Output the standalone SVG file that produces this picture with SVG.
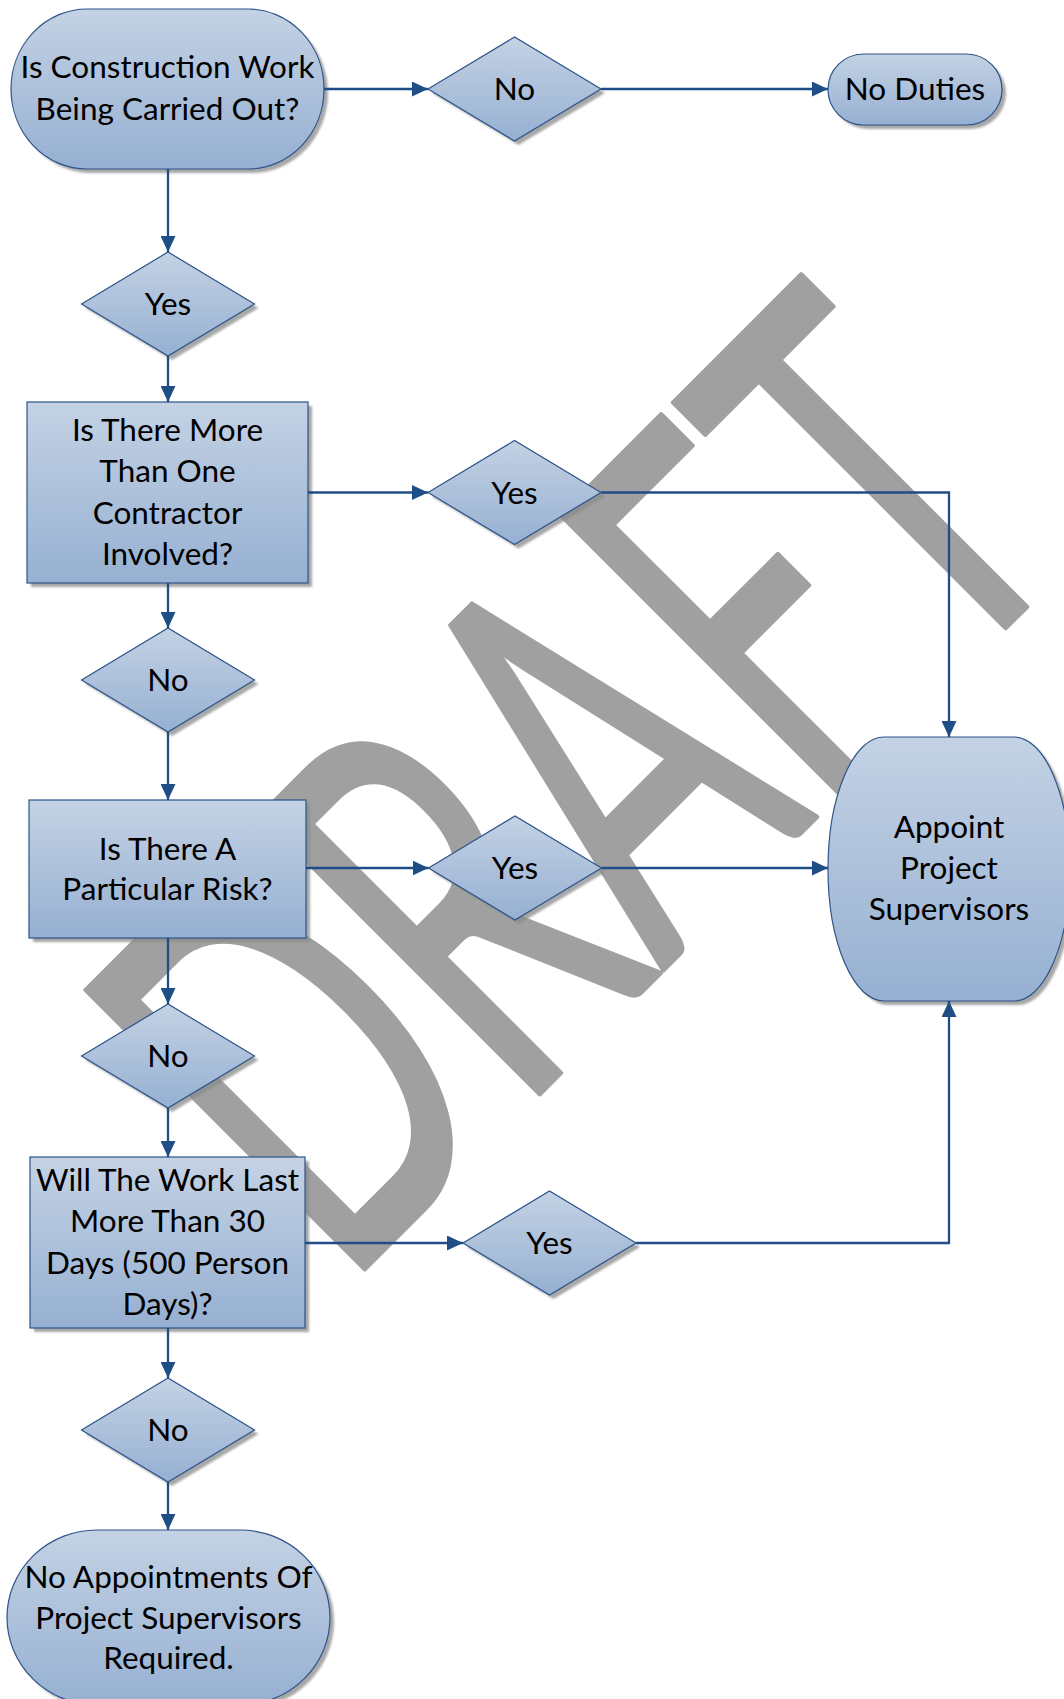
<svg xmlns="http://www.w3.org/2000/svg" width="1064" height="1699" viewBox="0 0 1064 1699">
<defs>
<linearGradient id="g" x1="0" y1="0" x2="0" y2="1">
<stop offset="0" stop-color="#c4d2e4"/>
<stop offset="1" stop-color="#96b0d2"/>
</linearGradient>
<filter id="blur" x="-10%" y="-10%" width="120%" height="120%"><feGaussianBlur stdDeviation="1.2"/></filter>
<marker id="arr" viewBox="0 0 16 15" refX="16" refY="7.5" markerWidth="16" markerHeight="15" markerUnits="userSpaceOnUse" orient="auto">
<path d="M0,0 L16,7.5 L0,15 Z" fill="#1f4e86"/>
</marker>
</defs>
<style>
.sh{fill:#8a8a8a;opacity:.75;filter:url(#blur)}
.shape{fill:url(#g);stroke:#2c5489;stroke-width:1.2}
.t{font-family:Lato,"Open Sans","Liberation Sans",sans-serif;font-size:31.5px;fill:#000;text-anchor:middle}
.c{fill:none;stroke:#1f4e86;stroke-width:2.3;marker-end:url(#arr)}
.wm{font-family:Lato,"Open Sans","Liberation Sans",sans-serif;font-size:550px;fill:#a0a0a0;stroke:#a0a0a0;stroke-width:5;stroke-linejoin:round}
</style>
<rect width="1064" height="1699" fill="#fff"/>
<g id="watermark">
<text class="wm" x="-670" y="1155" transform="rotate(-45)" textLength="1048" lengthAdjust="spacingAndGlyphs">DRAFT</text>
</g>

<g id="start">
<rect class="sh" x="15" y="13" width="313" height="160" rx="76" ry="80"/>
<rect class="shape" x="11" y="9" width="313" height="160" rx="76" ry="80"/>
<text class="t" x="167.5" y="78">Is Construction Work</text>
<text class="t" x="167.5" y="120">Being Carried Out?</text>
</g>
<g id="no1">
<polygon class="sh" points="432,93 518.5,41 605,93 518.5,145"/>
<polygon class="shape" points="428,89 514.5,37 601,89 514.5,141"/>
<text class="t" x="514.5" y="100">No</text>
</g>
<g id="noduties">
<rect class="sh" x="832" y="58" width="174" height="71" rx="35.5" ry="35.5"/>
<rect class="shape" x="828" y="54" width="174" height="71" rx="35.5" ry="35.5"/>
<text class="t" x="915" y="100">No Duties</text>
</g>
<g id="yes1">
<polygon class="sh" points="85.5,308 172,256 258.5,308 172,360"/>
<polygon class="shape" points="81.5,304 168,252 254.5,304 168,356"/>
<text class="t" x="168" y="315">Yes</text>
</g>
<g id="q2">
<rect class="sh" x="31" y="406" width="281" height="181"/>
<rect class="shape" x="27" y="402" width="281" height="181"/>
<text class="t" x="167.5" y="441">Is There More</text>
<text class="t" x="167.5" y="482">Than One</text>
<text class="t" x="167.5" y="523.5">Contractor</text>
<text class="t" x="167.5" y="565">Involved?</text>
</g>
<g id="yes2">
<polygon class="sh" points="432,496.5 518.5,444.5 605,496.5 518.5,548.5"/>
<polygon class="shape" points="428,492.5 514.5,440.5 601,492.5 514.5,544.5"/>
<text class="t" x="514.5" y="503.5">Yes</text>
</g>
<g id="no2">
<polygon class="sh" points="85.5,684 172,632 258.5,684 172,736"/>
<polygon class="shape" points="81.5,680 168,628 254.5,680 168,732"/>
<text class="t" x="168" y="691">No</text>
</g>
<g id="q3">
<rect class="sh" x="33" y="804" width="277" height="138"/>
<rect class="shape" x="29" y="800" width="277" height="138"/>
<text class="t" x="167.5" y="859.5">Is There A</text>
<text class="t" x="167.5" y="899.5">Particular Risk?</text>
</g>
<g id="yes3">
<polygon class="sh" points="432.5,872 519,820 605.5,872 519,924"/>
<polygon class="shape" points="428.5,868 515,816 601.5,868 515,920"/>
<text class="t" x="515" y="879">Yes</text>
</g>
<g id="appoint">
<rect class="sh" x="832" y="741" width="242" height="264" rx="56" ry="132"/>
<rect class="shape" x="828" y="737" width="242" height="264" rx="56" ry="132"/>
<text class="t" x="949" y="838">Appoint</text>
<text class="t" x="949" y="879">Project</text>
<text class="t" x="949" y="920">Supervisors</text>
</g>
<g id="no3">
<polygon class="sh" points="85.5,1060 172,1008 258.5,1060 172,1112"/>
<polygon class="shape" points="81.5,1056 168,1004 254.5,1056 168,1108"/>
<text class="t" x="168" y="1067">No</text>
</g>
<g id="q4">
<rect class="sh" x="34" y="1161" width="275" height="171"/>
<rect class="shape" x="30" y="1157" width="275" height="171"/>
<text class="t" x="167.5" y="1191">Will The Work Last</text>
<text class="t" x="167.5" y="1232">More Than 30</text>
<text class="t" x="167.5" y="1273.5">Days (500 Person</text>
<text class="t" x="167.5" y="1315">Days)?</text>
</g>
<g id="yes4">
<polygon class="sh" points="467,1247 553.5,1195 640,1247 553.5,1299"/>
<polygon class="shape" points="463,1243 549.5,1191 636,1243 549.5,1295"/>
<text class="t" x="549.5" y="1254">Yes</text>
</g>
<g id="no4">
<polygon class="sh" points="85.5,1434 172,1382 258.5,1434 172,1486"/>
<polygon class="shape" points="81.5,1430 168,1378 254.5,1430 168,1482"/>
<text class="t" x="168" y="1441">No</text>
</g>
<g id="end">
<rect class="sh" x="11" y="1534" width="323" height="175" rx="90" ry="87.5"/>
<rect class="shape" x="7" y="1530" width="323" height="175" rx="90" ry="87.5"/>
<text class="t" x="168.5" y="1588">No Appointments Of</text>
<text class="t" x="168.5" y="1629">Project Supervisors</text>
<text class="t" x="168.5" y="1669">Required.</text>
</g>

<g id="connectors">
<path class="c" d="M324,89 H428"/>
<path class="c" d="M601,89 H828"/>
<path class="c" d="M168,169 V252"/>
<path class="c" d="M168,356 V402"/>
<path class="c" d="M308,492.5 H428"/>
<path class="c" d="M601,492.5 H949 V737"/>
<path class="c" d="M168,583 V628"/>
<path class="c" d="M168,732 V800"/>
<path class="c" d="M306,868 H428.5"/>
<path class="c" d="M601.5,868 H828"/>
<path class="c" d="M168,938 V1004"/>
<path class="c" d="M168,1108 V1157"/>
<path class="c" d="M305,1243 H463"/>
<path class="c" d="M636,1243 H949 V1001"/>
<path class="c" d="M168,1328 V1378"/>
<path class="c" d="M168,1482 V1530"/>
</g>
</svg>
